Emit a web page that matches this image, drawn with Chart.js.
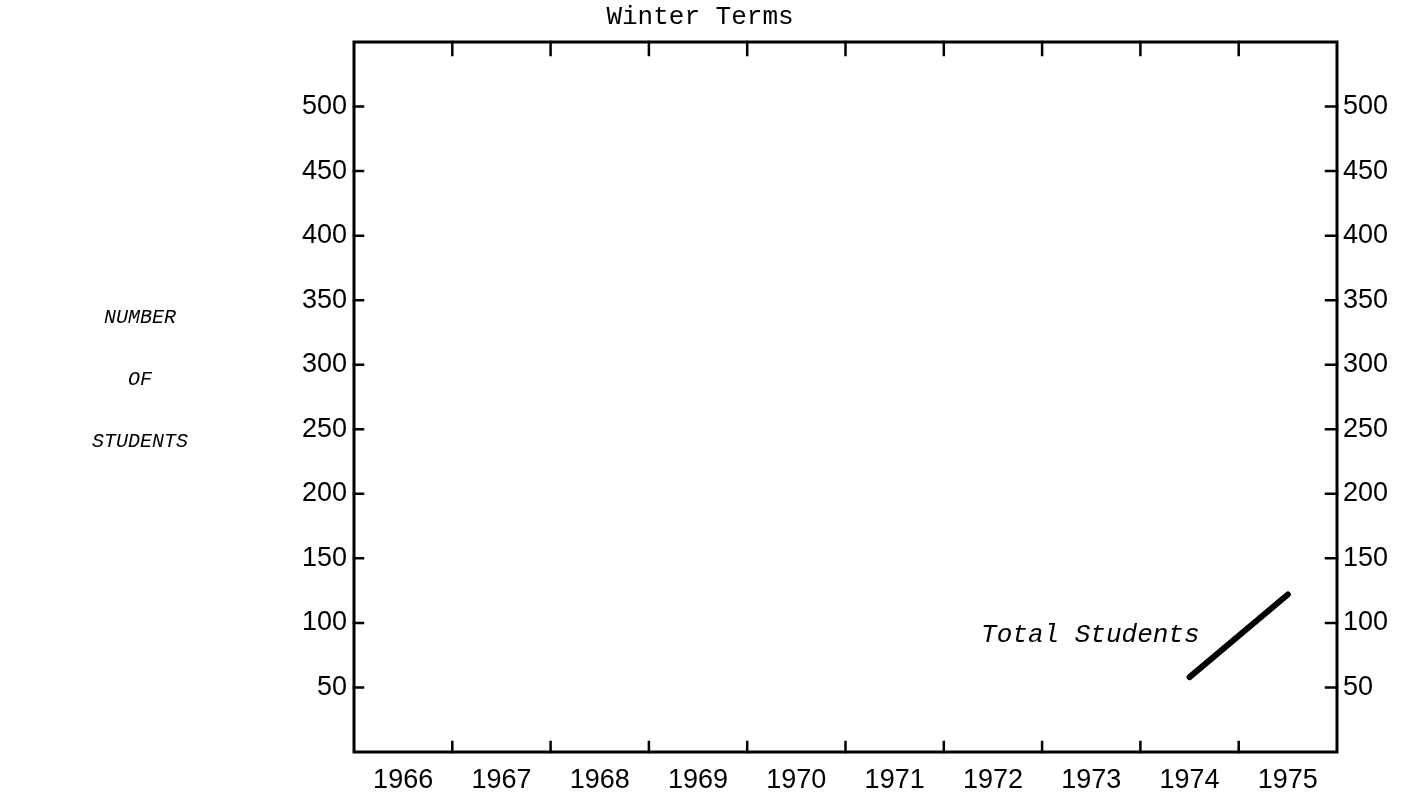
<!DOCTYPE html>
<html>
<head>
<meta charset="utf-8">
<script src="https://cdn.jsdelivr.net/npm/chart.js@4"></script>
<style>
  body { margin: 0; background: #fff; }
  canvas { display: block; }
</style>
</head>
<body>
<canvas id="canvas" width="1410" height="795"></canvas>
<script>
// values
const years = ['1966', '1967', '1968', '1969', '1970', '1971', '1972', '1973', '1974', '1975']
const totalStudents = [null, null, null, null, null, null, null, null, 58, 122]
const yTickValues = [50, 100, 150, 200, 250, 300, 350, 400, 450, 500]
const seriesLabel = 'Total Students'
const chartTitle = 'Winter Terms'
const sideLabel = ['NUMBER', 'OF', 'STUDENTS']

const tickFont = { family: 'Liberation Sans', size: 27 }

var fixTicks = (scale) => {
    scale.ticks = yTickValues.map(v => ({ value: v }))
}

// frame, inward tick marks and the hand-lettered texts
const paperPlugin = {
    id: 'paper',
    afterDraw: (chart) => {
        const { ctx, chartArea, scales } = chart
        const { left, right, top, bottom } = chartArea
        ctx.save()
        ctx.strokeStyle = '#000'
        ctx.lineCap = 'square'

        ctx.lineWidth = 3
        ctx.strokeRect(left, top, right - left, bottom - top)

        ctx.lineWidth = 2.5
        // year boundaries
        for (let i = 1; i < years.length; i++) {
            const x = (scales.x.getPixelForValue(i - 1) + scales.x.getPixelForValue(i)) / 2
            ctx.beginPath()
            ctx.moveTo(x, top)
            ctx.lineTo(x, top + 13)
            ctx.moveTo(x, bottom)
            ctx.lineTo(x, bottom - 10)
            ctx.stroke()
        }
        for (const v of yTickValues) {
            const y = scales.y.getPixelForValue(v)
            ctx.beginPath()
            ctx.moveTo(left, y)
            ctx.lineTo(left + 9, y)
            ctx.moveTo(right, y)
            ctx.lineTo(right - 11, y)
            ctx.stroke()
        }

        ctx.fillStyle = '#000'
        ctx.textBaseline = 'middle'

        ctx.font = '26px "Liberation Mono"'
        ctx.textAlign = 'center'
        ctx.fillText(chartTitle, chart.width / 2 - 5, 17)

        // series label next to its first point
        const meta = chart.getDatasetMeta(0)
        const first = meta.data[totalStudents.findIndex(v => v !== null)]
        ctx.font = 'italic 26px "Liberation Mono"'
        ctx.textAlign = 'right'
        ctx.fillText(seriesLabel, first.x + 10, first.y - 42)

        ctx.font = 'italic 20px "Liberation Mono"'
        ctx.textAlign = 'center'
        sideLabel.forEach((t, i) => {
            ctx.fillText(t, 140, 318 + i * 62)
        })
        ctx.restore()
    }
}

var chart = new Chart(document.getElementById('canvas'), {
    type: 'line',
    data: {
        labels: years,
        datasets: [
            {
                label: seriesLabel,
                data: totalStudents,
                borderColor: '#000',
                backgroundColor: '#000',
                borderWidth: 6,
                borderCapStyle: 'round',
                pointRadius: 0,
                fill: false,
                yAxisID: 'y'
            }
        ]
    },
    options: {
        responsive: false,
        animation: false,
        layout: { padding: { top: 42, left: 0, right: 0, bottom: 0 } },
        plugins: {
            legend: { display: false },
            tooltip: { enabled: false }
        },
        scales: {
            x: {
                type: 'category',
                offset: true,
                grid: { display: false, drawTicks: false, offset: true },
                border: { display: false },
                ticks: { font: tickFont, color: '#000', padding: 12, maxRotation: 0, autoSkip: false },
                afterFit: (s) => { s.height = 43 }
            },
            y: {
                position: 'left',
                min: 0,
                max: 550,
                grid: { display: false, drawTicks: false },
                border: { display: false },
                afterBuildTicks: fixTicks,
                ticks: { font: tickFont, color: '#000', padding: 7 },
                afterFit: (s) => { s.width = 354 }
            },
            y2: {
                position: 'right',
                min: 0,
                max: 550,
                grid: { display: false, drawTicks: false },
                border: { display: false },
                afterBuildTicks: fixTicks,
                ticks: { font: tickFont, color: '#000', padding: 6 },
                afterFit: (s) => { s.width = 73 }
            }
        }
    },
    plugins: [paperPlugin]
})
</script>
</body>
</html>
